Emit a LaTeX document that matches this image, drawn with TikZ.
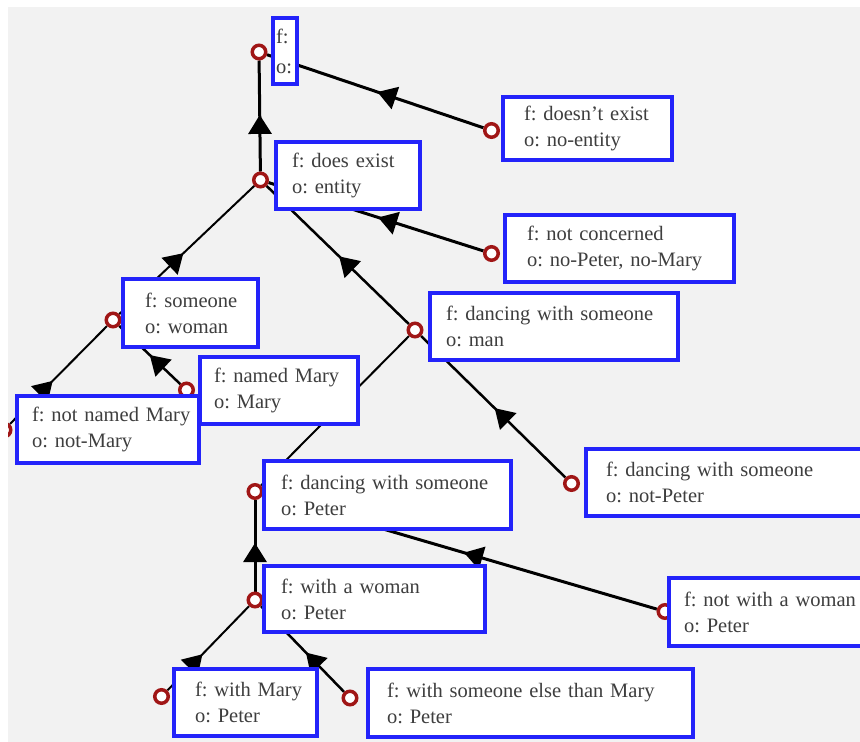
\documentclass[tikz,border=0pt]{standalone}
\usepackage{fontspec}
\setmainfont{Liberation Serif}
\usetikzlibrary{arrows.meta,decorations.markings}
\pgfdeclarelayer{bg}
\pgfdeclarelayer{edges}
\pgfdeclarelayer{fg}
\pgfsetlayers{bg,edges,main,fg}
\definecolor{bgray}{RGB}{242,242,242}
\definecolor{bblue}{RGB}{35,35,250}
\definecolor{dred}{RGB}{160,22,22}
\definecolor{tgray}{RGB}{62,62,62}
\newcommand{\twolines}[2]{\mbox{#1}\\\mbox{#2}}
\tikzset{
  ring/.style={circle,draw=dred,line width=3.5pt,fill=white,inner sep=0pt,minimum size=13.5pt},
  fbox/.style={draw=bblue,line width=3.5pt,fill=white,align=left,inner ysep=0pt,
    text=tgray,font=\fontsize{20.5}{26}\selectfont\frenchspacing},
  link/.style={line width=2.5pt,draw=black,postaction={decorate},
    decoration={markings,mark=at position #1 with {\arrow{Triangle[length=19pt,width=23pt]}}}},
}
\begin{document}
\begin{tikzpicture}[x=1pt,y=-1pt]
\useasboundingbox (0,0) rectangle (860,742);
\begin{pgfonlayer}{bg}
  \fill[white] (0,0) rectangle (860,742);
  \fill[bgray] (8,7) rectangle (860,742);
\end{pgfonlayer}
% circles
\node[ring] (c0) at (259,52) {};
\node[ring] (c1) at (491.5,130.5) {};
\node[ring] (c2) at (260.5,180) {};
\node[ring] (c3) at (491.5,253.5) {};
\node[ring] (c4) at (113,320) {};
\node[ring] (c5) at (415,330) {};
\node[ring] (c6) at (186.5,390) {};
\node[ring] (c7) at (4,430) {};
\node[ring] (c8) at (255,491.5) {};
\node[ring] (c9) at (571.5,483.5) {};
\node[ring] (c10) at (255,600) {};
\node[ring] (c11) at (665,611.5) {};
\node[ring] (c12) at (161.5,696.5) {};
\node[ring] (c13) at (350,698) {};
% boxes
\node[fbox,inner xsep=3pt,text width=18pt,minimum height=66pt] (b0) at (285,51) {f:\\[4pt]o:};
\node[fbox,inner xsep=21pt,text width=127pt,minimum height=63pt] (b1) at (587.5,128.5) {\twolines{f: doesn’t exist}{o: no-entity}};
\node[fbox,inner xsep=16pt,text width=112pt,minimum height=67pt] (b2) at (348,175.5) {\twolines{f: does exist}{o: entity}};
\node[fbox,inner xsep=22pt,text width=185pt,minimum height=67pt] (b3) at (619.5,248.5) {\twolines{f: not concerned}{o: no-Peter, no-Mary}};
\node[fbox,inner xsep=22pt,text width=91pt,minimum height=68pt] (b4) at (190.5,313) {\twolines{f: someone}{o: woman}};
\node[fbox,inner xsep=16pt,text width=216pt,minimum height=67pt] (b5) at (554,326.5) {\twolines{f: dancing with someone}{o: man}};
\node[fbox,inner xsep=14pt,text width=130pt,minimum height=67pt] (b6) at (279,390.5) {\twolines{f: named Mary}{o: Mary}};
\node[fbox,inner xsep=15pt,text width=152pt,minimum height=67pt] (b7) at (108,429.5) {\twolines{f: not named Mary}{o: not-Mary}};
\node[fbox,inner xsep=17pt,text width=213pt,minimum height=68pt] (b8) at (387.5,495) {\twolines{f: dancing with someone}{o: Peter}};
\node[fbox,inner xsep=20pt,text width=239pt,minimum height=67pt] (b9) at (725.5,482.5) {\twolines{f: dancing with someone}{o: not-Peter}};
\node[fbox,inner xsep=17pt,text width=187pt,minimum height=66pt] (b10) at (374.5,599) {\twolines{f: with a woman}{o: Peter}};
\node[fbox,inner xsep=15pt,text width=166pt,minimum height=68pt] (b11) at (767,612) {\twolines{f: not with a woman}{o: Peter}};
\node[fbox,inner xsep=21pt,text width=101pt,minimum height=67pt] (b12) at (245.5,702.5) {\twolines{f: with Mary}{o: Peter}};
\node[fbox,inner xsep=19pt,text width=287pt,minimum height=68pt] (b13) at (530.5,703) {\twolines{f: with someone else than Mary}{o: Peter}};
% connectors
\begin{pgfonlayer}{edges}
  \draw[link=0.51,line width=3pt] (c2) -- (c0);
  \draw[link=0.49,line width=3pt] (c1) -- (c0);
  \draw[link=0.49,line width=3pt] (c3) -- (c2);
  \draw[link=0.475,line width=2pt] (c4) -- (c2);
  \draw[link=0.49] (c5) -- (c2);
  \draw[link=0.49] (c9) -- (c5);
  \draw[link=0.44,line width=2pt] (c7) -- (c4);
  \draw[link=0.5] (c6) -- (c4);
  \draw[link=0.56,line width=2pt] (c8) -- (c5);
  \draw[link=0.53,line width=3pt] (c10) -- (c8);
  \draw[link=0.49,line width=3pt] (c11) -- (c8);
  \draw[link=0.43,line width=2pt] (c12) -- (c10);
  \draw[link=0.46] (c13) -- (c10);
\end{pgfonlayer}
\begin{pgfonlayer}{fg}
  \fill[white] (0,0) rectangle (860,7);
  \fill[white] (0,0) rectangle (8,742);
\end{pgfonlayer}
\end{tikzpicture}
\end{document}
